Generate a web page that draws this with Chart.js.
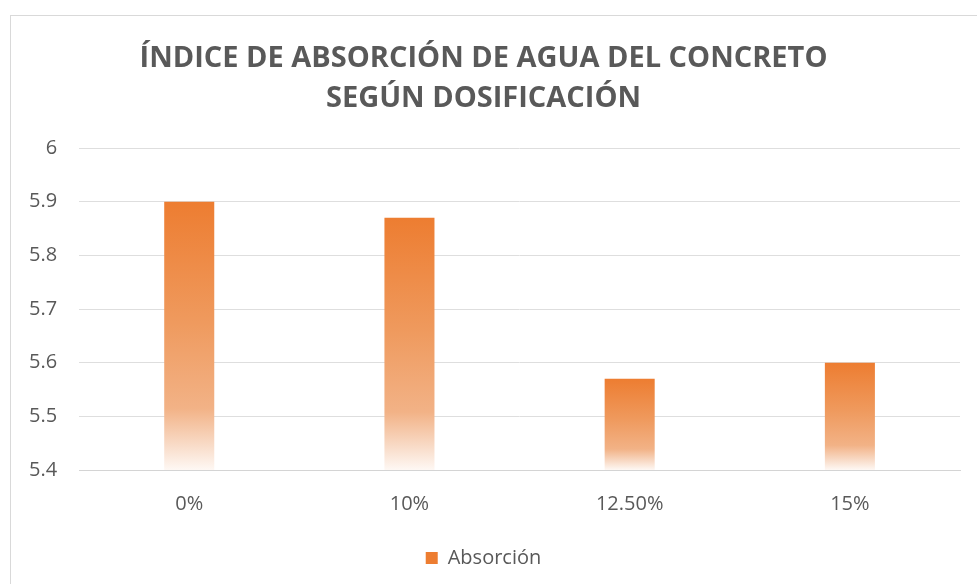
<!DOCTYPE html>
<html>
<head>
<meta charset="utf-8">
<script src="https://cdn.jsdelivr.net/npm/chart.js@4.4.0/dist/chart.umd.min.js"></script>
<style>
  html, body { margin: 0; padding: 0; background: #fff; }
  #wrap { position: absolute; left: 0; top: 0; width: 977px; height: 584px; }
  #frame { position: absolute; left: 10px; top: 15px; width: 990px; height: 600px; border: 1px solid #d9d9d9; box-sizing: border-box; }
</style>
</head>
<body>
<div id="frame"></div>
<div id="wrap"><canvas id="chart"></canvas></div>
<script>
const categories = ['0%', '10%', '12.50%', '15%'];
const absorcion = [5.9, 5.87, 5.57, 5.6];
const yTicks = { min: 5.4, max: 6, step: 0.1 };
const titleLines = ['ÍNDICE DE ABSORCIÓN DE AGUA DEL CONCRETO', 'SEGÚN DOSIFICACIÓN'];

const textColor = '#595959';
const orange = '#ED7D31';

// each bar fades from orange at its top to white at its base
function barGradient(context) {
  const chart = context.chart;
  if (!chart.chartArea || context.type !== 'data') return orange;
  const y = chart.scales.y;
  const top = y.getPixelForValue(context.raw);
  const base = y.getPixelForValue(yTicks.min);
  if (!isFinite(top) || !isFinite(base) || base - top < 1) return orange;
  const g = chart.ctx.createLinearGradient(0, top, 0, base);
  g.addColorStop(0, '#ED7D31');
  g.addColorStop(0.45, '#EF9A5E');
  g.addColorStop(0.77, '#F2B286');
  g.addColorStop(0.9, '#F8D9C4');
  g.addColorStop(1, '#FEF8F4');
  return g;
}

const ctx = document.getElementById('chart').getContext('2d');
new Chart(ctx, {
  type: 'bar',
  data: {
    labels: categories,
    datasets: [{
      label: 'Absorción',
      data: absorcion,
      backgroundColor: barGradient,
      borderWidth: 0,
      barPercentage: 0.45,
      categoryPercentage: 0.505
    }]
  },
  options: {
    responsive: true,
    maintainAspectRatio: false,
    animation: false,
    layout: { padding: { left: 7, right: 17, top: 39, bottom: 6 } },
    plugins: {
      title: {
        display: true,
        text: titleLines,
        color: textColor,
        font: { family: 'Open Sans', size: 29, weight: 'bold', lineHeight: 1.38 },
        padding: { top: 0, bottom: 29 }
      },
      legend: {
        position: 'bottom',
        labels: {
          color: textColor,
          font: { family: 'Open Sans', size: 20 },
          boxWidth: 12,
          boxHeight: 12,
          padding: 10,
          generateLabels: chart => {
            const items = Chart.defaults.plugins.legend.labels.generateLabels(chart);
            items.forEach(it => { it.fillStyle = orange; it.strokeStyle = orange; it.lineWidth = 0; });
            return items;
          }
        }
      },
      tooltip: { enabled: false }
    },
    scales: {
      x: {
        grid: { display: false, drawTicks: false },
        border: { color: '#d4d4d4', width: 1 },
        ticks: { color: textColor, font: { family: 'Open Sans', size: 20 }, padding: 22 }
      },
      y: {
        min: yTicks.min,
        max: yTicks.max,
        grid: { color: '#dedede', lineWidth: 1, drawTicks: false },
        border: { display: false },
        ticks: {
          stepSize: yTicks.step,
          color: textColor,
          font: { family: 'Open Sans', size: 20 },
          padding: 22,
          callback: v => Number(v.toFixed(1)).toString()
        }
      }
    }
  }
});
</script>
</body>
</html>
